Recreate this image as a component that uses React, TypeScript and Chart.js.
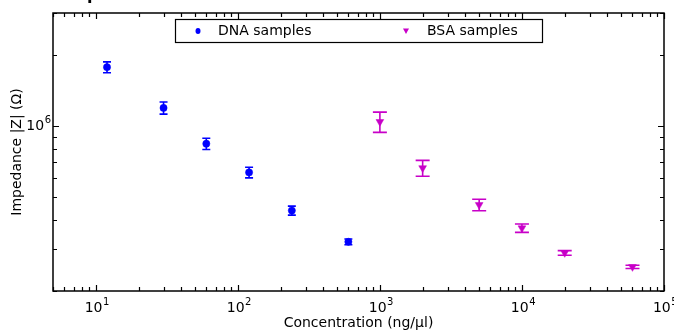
import React, { useEffect, useRef } from 'react';
import { Chart, registerables } from 'chart.js';
Chart.register(...registerables);

// ---- data ----
const dnaConc = [12, 30, 60, 120, 240, 600];
const dnaImp = [1.77e6, 1.19e6, 8.4e5, 6.35e5, 4.38e5, 3.23e5];
const dnaErr = [9.3e4, 7.0e4, 4.6e4, 3.3e4, 1.9e4, 0.9e4];

const bsaConc = [1000, 2000, 5000, 10000, 20000, 60000];
const bsaImp = [1.04e6, 6.63e5, 4.63e5, 3.69e5, 2.9e5, 2.53e5];
const bsaErr = [1.02e5, 5.1e4, 2.6e4, 1.5e4, 6.5e3, 4.0e3];

const seriesLabels = ['DNA samples', 'BSA samples'];
const xMajorExps = [1, 2, 3, 4, 5];
const yMajorExps = [6];
const xTitle = 'Concentration (ng/\u03bcl)';
const yTitle = 'Impedance |Z| (\u03a9)';
const xMin = 5, xMax = 1e5, yMin = 2e5, yMax = 3e6;

const BLUE = '#0000ff';
const MAGENTA = '#c800c8';
const FONT = '"DejaVu Sans", Verdana, sans-serif';

const series = [
  { label: seriesLabels[0], x: dnaConc, y: dnaImp, err: dnaErr, color: BLUE, cap: 4, style: 'circle', rot: 0, r: 3.6 },
  { label: seriesLabels[1], x: bsaConc, y: bsaImp, err: bsaErr, color: MAGENTA, cap: 7, style: 'triangle', rot: 180, r: 4.5 },
];

function minorTicks(min: number, max: number) {
  const out: { v: number; major: boolean }[] = [];
  for (let e = Math.floor(Math.log10(min)); e <= Math.ceil(Math.log10(max)); e++) {
    for (let m = 1; m <= 9; m++) {
      const v = m * Math.pow(10, e);
      if (v >= min * 0.999 && v <= max * 1.001) out.push({ v, major: m === 1 });
    }
  }
  return out;
}

const customPlugin = {
  id: 'customDraw',
  beforeDatasetsDraw(chart: any) {
    const ctx = chart.ctx;
    const xs = chart.scales.x, ys = chart.scales.y;
    ctx.save();
    series.forEach((s) => {
      ctx.strokeStyle = s.color;
      ctx.lineWidth = 1.6;
      s.x.forEach((xv, i) => {
        const px = xs.getPixelForValue(xv);
        const top = ys.getPixelForValue(s.y[i] + s.err[i]);
        const bot = ys.getPixelForValue(s.y[i] - s.err[i]);
        ctx.beginPath();
        ctx.moveTo(px, top); ctx.lineTo(px, bot);
        ctx.moveTo(px - s.cap, top); ctx.lineTo(px + s.cap, top);
        ctx.moveTo(px - s.cap, bot); ctx.lineTo(px + s.cap, bot);
        ctx.stroke();
      });
    });
    ctx.restore();
  },
  afterDraw(chart: any) {
    const ctx = chart.ctx;
    const { left, right, top, bottom } = chart.chartArea;
    const xs = chart.scales.x, ys = chart.scales.y;
    ctx.save();
    // frame
    ctx.strokeStyle = '#000';
    ctx.lineWidth = 1.5;
    ctx.strokeRect(left, top, right - left, bottom - top);
    // ticks
    ctx.lineWidth = 1.2;
    ctx.beginPath();
    minorTicks(xMin, xMax).forEach(({ v, major }) => {
      const px = Math.round(xs.getPixelForValue(v)) + 0.5;
      const len = major ? 6 : 4;
      ctx.moveTo(px, bottom); ctx.lineTo(px, bottom - len);
      ctx.moveTo(px, top); ctx.lineTo(px, top + len);
    });
    minorTicks(yMin, yMax).forEach(({ v, major }) => {
      const py = Math.round(ys.getPixelForValue(v)) + 0.5;
      const len = major ? 6 : 4;
      ctx.moveTo(left, py); ctx.lineTo(left + len, py);
      ctx.moveTo(right, py); ctx.lineTo(right - len, py);
    });
    ctx.stroke();

    // tick labels
    ctx.fillStyle = '#000';
    const big = `14px ${FONT}`, small = `10px ${FONT}`;
    xMajorExps.forEach((e) => {
      const px = xs.getPixelForValue(Math.pow(10, e));
      ctx.font = big;
      const w1 = ctx.measureText('10').width;
      ctx.font = small;
      const w2 = ctx.measureText(String(e)).width;
      const start = px - (w1 + w2) / 2 + 1;
      ctx.textAlign = 'left';
      ctx.textBaseline = 'middle';
      ctx.font = big;
      ctx.fillText('10', start, bottom + 17);
      ctx.font = small;
      ctx.fillText(String(e), start + w1 + 0.5, bottom + 11);
    });
    yMajorExps.forEach((e) => {
      const py = ys.getPixelForValue(Math.pow(10, e));
      ctx.font = small;
      const w2 = ctx.measureText(String(e)).width;
      ctx.font = big;
      const w1 = ctx.measureText('10').width;
      const end = left - 2;
      ctx.textAlign = 'left';
      ctx.textBaseline = 'middle';
      ctx.fillText('10', end - w2 - w1 - 0.5, py + 1);
      ctx.font = small;
      ctx.fillText(String(e), end - w2, py - 5);
    });

    // axis titles
    ctx.font = big;
    ctx.textAlign = 'center';
    ctx.textBaseline = 'middle';
    ctx.fillText(xTitle, (left + right) / 2, bottom + 32);
    ctx.save();
    ctx.translate(17, (top + bottom) / 2);
    ctx.rotate(-Math.PI / 2);
    ctx.fillText(yTitle, 0, 0);
    ctx.restore();

    // legend
    const lx = 175, ly = 19, lw = 367, lh = 23;
    ctx.fillStyle = '#fff';
    ctx.fillRect(lx, ly, lw, lh);
    ctx.strokeStyle = '#000';
    ctx.lineWidth = 1.2;
    ctx.strokeRect(lx + 0.5, ly + 0.5, lw, lh);
    const cy = ly + lh / 2 + 0.5;
    const items = [
      { s: series[0], mx: 198, tx: 218 },
      { s: series[1], mx: 406, tx: 427 },
    ];
    items.forEach(({ s, mx, tx }) => {
      ctx.fillStyle = s.color;
      ctx.beginPath();
      if (s.style === 'circle') {
        ctx.ellipse(mx, cy, 2.5, 3, 0, 0, Math.PI * 2);
      } else {
        ctx.moveTo(mx - 3, cy - 2.5);
        ctx.lineTo(mx + 3, cy - 2.5);
        ctx.lineTo(mx, cy + 3);
        ctx.closePath();
      }
      ctx.fill();
      ctx.fillStyle = '#000';
      ctx.font = big;
      ctx.textAlign = 'left';
      ctx.textBaseline = 'middle';
      ctx.fillText(s.label, tx, cy);
    });

    // cut-off title fragment at the top edge
    ctx.font = `bold 16px ${FONT}`;
    ctx.textAlign = 'left';
    ctx.textBaseline = 'alphabetic';
    ctx.fillText('p', 87, 0);
    ctx.restore();
  },
};

export default function App() {
  const ref = useRef<HTMLCanvasElement>(null);
  useEffect(() => {
    if (!ref.current) return;
    const chart = new Chart(ref.current, {
      type: 'scatter',
      data: {
        datasets: series.map((s) => ({
          label: s.label,
          data: s.x.map((v, i) => ({ x: v, y: s.y[i] })),
          pointStyle: s.style as any,
          pointRotation: s.rot,
          pointRadius: s.r,
          backgroundColor: s.color,
          borderColor: s.color,
          borderWidth: 0.5,
        })),
      },
      options: {
        responsive: false,
        animation: false,
        devicePixelRatio: 1,
        layout: { padding: { top: 13, right: 10, left: 0, bottom: 0 } },
        plugins: { legend: { display: false }, tooltip: { enabled: false } },
        scales: {
          x: {
            type: 'logarithmic', min: xMin, max: xMax,
            grid: { display: false }, border: { display: false },
            ticks: { display: false },
            afterFit: (s: any) => { s.height = 41; },
          },
          y: {
            type: 'logarithmic', min: yMin, max: yMax,
            grid: { display: false }, border: { display: false },
            ticks: { display: false },
            afterFit: (s: any) => { s.width = 53; },
          },
        },
      },
      plugins: [customPlugin],
    } as any);
    return () => chart.destroy();
  }, []);
  return (
    <div style={{ position: 'absolute', left: 0, top: 0, width: 674, height: 332, background: '#fff' }}>
      <canvas ref={ref} width={674} height={332} style={{ display: 'block' }} />
    </div>
  );
}
